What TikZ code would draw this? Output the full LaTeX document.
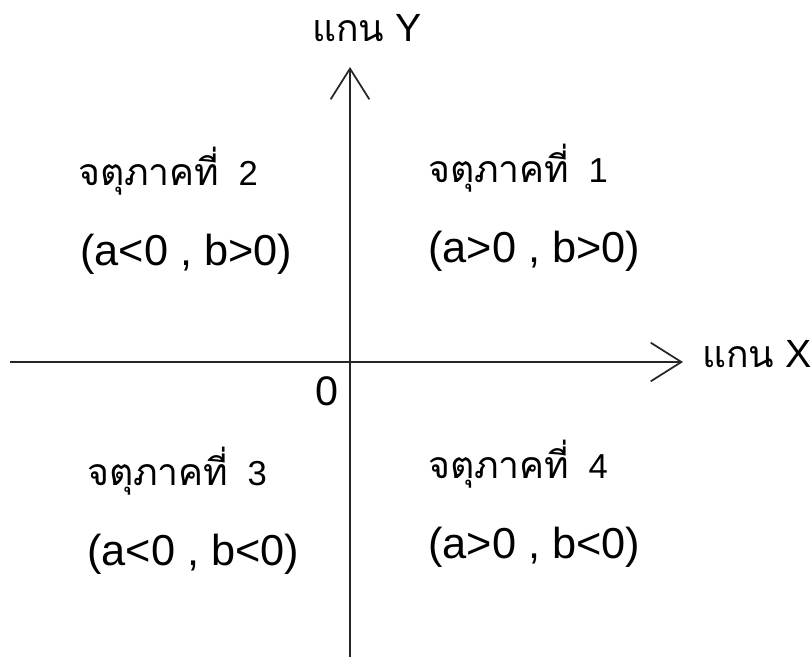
\documentclass[tikz,border=0pt]{standalone}
\usepackage{fontspec}
\setmainfont{Liberation Sans}
\newfontfamily\thaifont[Script=Thai]{Loma}
\newcommand{\thaiword}[1]{{\thaifont\fontsize{28}{32}\selectfont #1}}
\newcommand{\quadname}[1]{\thaiword{จตุภาคที่}\hspace{0.55em}#1}
\usetikzlibrary{arrows.meta, positioning}

\begin{document}
\begin{tikzpicture}[
    x=0.75pt, y=-0.75pt,
    axis/.style={draw=black!85, line width=1.3pt,
        -{Straight Barb[length=23pt, width=29pt, line width=1.3pt]}},
    quadtitle/.style={anchor=base west, inner sep=0pt,
        font=\fontsize{26}{30}\selectfont},
    signs/.style={anchor=base west, inner sep=0pt,
        font=\fontsize{32.5}{38}\selectfont},
    axislabel/.style={anchor=base west, inner sep=0pt,
        font=\fontsize{29.5}{36}\selectfont}
]
\useasboundingbox (0,0) rectangle (811,657);

% Axes
\coordinate (xstart) at (10,362);
\coordinate (xend) at (683,362);
\coordinate (ystart) at (350,657);
\coordinate (yend) at (350,67);
\draw[axis] (xstart) -- (xend);
\draw[axis] (ystart) -- (yend);

% Axis labels
\node[axislabel] (ylabel) at (312,41) {\thaiword{แกน} Y};
\node[axislabel] (xlabel) at (702,367) {\thaiword{แกน} X};
\node[axislabel, font=\fontsize{31}{36}\selectfont] (origin) at (315,405) {0};

% Quadrants
\node[quadtitle] (q1) at (428,182) {\quadname{1}};
\node[signs, below=60pt of q1.base west, anchor=base west] (q1sign) {(a>0 , b>0)};

\node[quadtitle] (q2) at (78,185) {\quadname{2}};
\node[signs, below=60pt of q2.base west, anchor=base west, xshift=1.5pt] (q2sign) {(a<0 , b>0)};

\node[quadtitle] (q3) at (87,485) {\quadname{3}};
\node[signs, below=60pt of q3.base west, anchor=base west] (q3sign) {(a<0 , b<0)};

\node[quadtitle] (q4) at (428,478) {\quadname{4}};
\node[signs, below=60pt of q4.base west, anchor=base west] (q4sign) {(a>0 , b<0)};

\end{tikzpicture}
\end{document}
